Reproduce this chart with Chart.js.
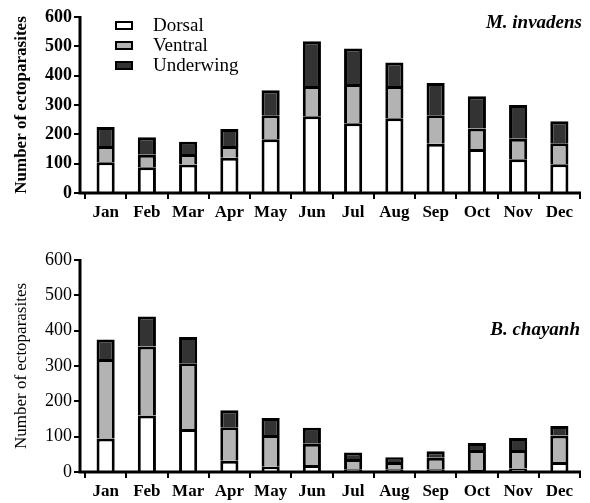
<!DOCTYPE html>
<html>
<head>
<meta charset="utf-8">
<script src="https://cdn.jsdelivr.net/npm/chart.js@4.4.0/dist/chart.umd.min.js"></script>
<style>
  body { margin: 0; background: #fff; }
  #wrap { position: relative; width: 590px; height: 503px; background: #fff; overflow: hidden; font-family: 'Liberation Serif', 'Times New Roman', serif; }
  canvas { position: absolute; left: 0; }
  #chart-top { top: 0; }
  #chart-bottom { top: 245px; }
  .species { position: absolute; font-weight: bold; font-style: italic; font-size: 19px; line-height: 20px; white-space: nowrap; }
  .legend { position: absolute; left: 115px; top: 15px; font-size: 19px; }
  .legend-row { display: flex; align-items: center; height: 20px; }
  .legend-box { width: 14px; height: 5px; border: 2px solid #000; margin-right: 20px; }
</style>
</head>
<body>
<div id="wrap">
  <canvas id="chart-top" width="590" height="245"></canvas>
  <canvas id="chart-bottom" width="590" height="258"></canvas>
  <div class="legend" id="legend"></div>
  <div class="species" style="right:8px; top:12px;">M. invadens</div>
  <div class="species" style="right:10px; top:319px;">B. chayanh</div>
</div>
<script>
// Datos
const meses = ['Jan', 'Feb', 'Mar', 'Apr', 'May', 'Jun', 'Jul', 'Aug', 'Sep', 'Oct', 'Nov', 'Dec'];
const ticksY = [0, 100, 200, 300, 400, 500, 600];
const series = ['Dorsal', 'Ventral', 'Underwing'];
const colores = ['#ffffff', '#b3b3b3', '#333333'];

// M. invadens
const invadensDorsal = [105, 88, 97, 120, 183, 262, 238, 255, 168, 150, 115, 98];
const invadensVentral = [55, 42, 36, 40, 82, 103, 134, 110, 97, 70, 70, 72];
const invadensUnderwing = [65, 60, 42, 58, 85, 152, 121, 80, 110, 110, 115, 75];

// B. chayanh
const chayanhDorsal = [95, 160, 122, 32, 15, 20, 8, 8, 8, 6, 10, 28];
const chayanhVentral = [225, 195, 186, 95, 90, 60, 29, 20, 32, 56, 52, 75];
const chayanhUnderwing = [55, 85, 74, 48, 48, 45, 18, 14, 19, 20, 34, 27];

const FONT = "'Liberation Serif', 'Times New Roman', serif";

// Ejes dibujados a mano: el eje Y queda 5px a la izquierda del primer tick
const ejesPlugin = {
  id: 'ejes',
  afterDraw(chart) {
    const { ctx, chartArea, scales } = chart;
    const y = scales.y;
    const x0 = chartArea.left - 5;
    ctx.save();
    ctx.strokeStyle = '#000';
    ctx.lineWidth = 3;
    ctx.beginPath();
    ctx.moveTo(x0, y.getPixelForValue(600) - 1);
    ctx.lineTo(x0, chartArea.bottom);
    ctx.lineTo(chartArea.right + 1, chartArea.bottom);
    ctx.stroke();
    ctx.lineWidth = 2;
    ctx.beginPath();
    ticksY.forEach(v => {
      const py = Math.round(y.getPixelForValue(v));
      ctx.moveTo(x0 - 6, py);
      ctx.lineTo(x0, py);
    });
    ctx.stroke();
    ctx.restore();
  }
};

const GraficoView = {
  charts: {},

  render() {
    this.renderLeyenda();
    this.charts.top = this.renderChart('chart-top', [invadensDorsal, invadensVentral, invadensUnderwing], {
      padTop: 17, axisH: 52, bold: true
    });
    this.charts.bottom = this.renderChart('chart-bottom', [chayanhDorsal, chayanhVentral, chayanhUnderwing], {
      padTop: 15, axisH: 31, bold: false
    });
  },

  renderLeyenda() {
    const el = document.getElementById('legend');
    el.innerHTML = series.map((s, i) => `
      <div class="legend-row">
        <div class="legend-box" style="background:${colores[i]}"></div>
        <span>${s}</span>
      </div>
    `).join('');
  },

  renderChart(id, datos, cfg) {
    const ctx = document.getElementById(id);
    return new Chart(ctx, {
      type: 'bar',
      data: {
        labels: meses,
        datasets: series.map((s, i) => ({
          label: s,
          data: datos[i],
          backgroundColor: colores[i],
          borderColor: '#000',
          borderWidth: 3,
          borderSkipped: 'start',
          barPercentage: 0.44,
          categoryPercentage: 1
        }))
      },
      options: {
        responsive: false,
        animation: false,
        layout: { autoPadding: false, padding: { top: cfg.padTop, right: 10, left: 0, bottom: 0 } },
        plugins: {
          legend: { display: false },
          tooltip: { enabled: false }
        },
        scales: {
          x: {
            stacked: true,
            offset: true,
            afterFit: scale => { scale.height = cfg.axisH; },
            border: { display: false },
            grid: {
              display: true,
              drawOnChartArea: false,
              drawTicks: true,
              tickLength: 6,
              offset: true,
              color: '#000',
              lineWidth: 2
            },
            ticks: {
              color: '#000',
              padding: 3,
              maxRotation: 0,
              autoSkip: false,
              font: { family: FONT, size: 17, weight: 'bold' }
            }
          },
          y: {
            stacked: true,
            min: 0,
            max: 600,
            afterFit: scale => { scale.width = 85; },
            afterBuildTicks: scale => { scale.ticks = ticksY.map(v => ({ value: v })); },
            border: { display: false },
            // marcas ocultas: solo sirven para separar las etiquetas del eje
            grid: { display: false, drawTicks: true, tickLength: 13 },
            ticks: {
              color: '#000',
              padding: 0,
              font: { family: FONT, size: 18, weight: cfg.bold ? 'bold' : 'normal' }
            },
            title: {
              display: true,
              text: 'Number of ectoparasites',
              color: '#000',
              padding: { top: 11, bottom: 0 },
              font: { family: FONT, size: 17, weight: cfg.bold ? 'bold' : 'normal' }
            }
          }
        }
      },
      plugins: [ejesPlugin]
    });
  }
};

GraficoView.render();
</script>
</body>
</html>
